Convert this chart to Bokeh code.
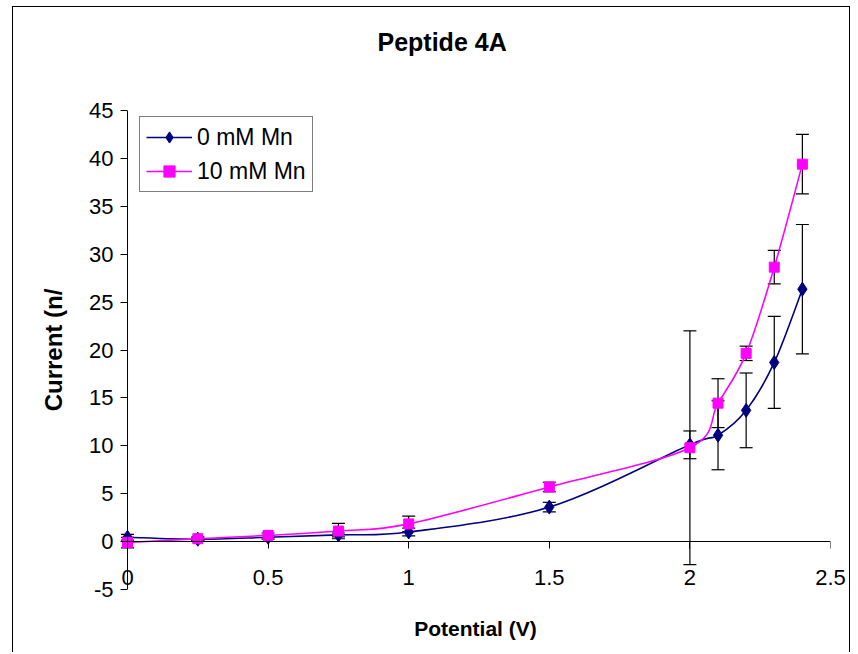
import numpy as np
from bokeh.plotting import figure
from bokeh.models import (Range1d, FixedTicker, LinearAxis, Whisker, TeeHead,
                          ColumnDataSource, Legend, LegendItem, Span, Title,
                          CustomJSTickFormatter)
from bokeh.embed import file_html
from bokeh.resources import INLINE

# ---------------- data ----------------
potential = [0.0, 0.25, 0.5, 0.75, 1.0, 1.5, 2.0, 2.1, 2.2, 2.3, 2.4]
mn0 = [0.45, 0.25, 0.45, 0.7, 1.0, 3.6, 10.1, 11.1, 13.7, 18.7, 26.35]
mn0_err = [0.3, 0.15, 0.2, 0.2, 0.4, 0.5, 1.45, 3.6, 3.9, 4.8, 6.75]
mn10 = [-0.1, 0.3, 0.65, 1.1, 1.85, 5.7, 9.8, 14.45, 19.65, 28.65, 39.4]
mn10_err = [0.55, 0.2, 0.25, 0.8, 0.8, 0.5, 12.2, 2.55, 0.75, 1.75, 3.1]

series_names = ["0 mM Mn", "10 mM Mn"]
x_ticks = [0, 0.5, 1, 1.5, 2, 2.5]
x_tick_labels = ["0", "0.5", "1", "1.5", "2", "2.5"]
y_ticks = [-5, 0, 5, 10, 15, 20, 25, 30, 35, 40, 45]
y_tick_labels = ["-5", "0", "5", "10", "15", "20", "25", "30", "35", "40", "45"]

title_text = "Peptide 4A"
x_label = "Potential (V)"
y_label = "Current (n/"

FONT = "Liberation Sans"
NAVY = "#000080"
MAGENTA = "#FF00FF"


def smooth_segments(xs, ys):
    """Bezier control points (Catmull-Rom style) through the data points."""
    P = np.column_stack([xs, ys]).astype(float)
    n = len(P)
    segs = {k: [] for k in ["x0", "y0", "x1", "y1", "cx0", "cy0", "cx1", "cy1"]}
    for i in range(n - 1):
        p0 = P[i - 1] if i > 0 else P[i]
        p1 = P[i]
        p2 = P[i + 1]
        p3 = P[i + 2] if i + 2 < n else P[i + 1]
        c1 = p1 + (p2 - p0) / 6.0
        c2 = p2 - (p3 - p1) / 6.0
        segs["x0"].append(p1[0]); segs["y0"].append(p1[1])
        segs["x1"].append(p2[0]); segs["y1"].append(p2[1])
        segs["cx0"].append(c1[0]); segs["cy0"].append(c1[1])
        segs["cx1"].append(c2[0]); segs["cy1"].append(c2[1])
    return ColumnDataSource(segs)


p = figure(width=838, height=646, title=None,
           x_range=Range1d(-0.025, 2.5), y_range=Range1d(-5, 45),
           output_backend="svg", toolbar_location=None,
           min_border_left=107, min_border_right=21,
           min_border_top=103, min_border_bottom=64)
p.styles = {"margin-left": "12px", "margin-top": "6px",
            "border-left": "1px solid black", "border-top": "1px solid black",
            "border-right": "1px solid black"}
p.xgrid.visible = False
p.ygrid.visible = False
p.outline_line_color = None
p.background_fill_color = "white"
p.border_fill_color = "white"

# ---- bottom axis: only tick labels + axis label ----
xa = p.xaxis[0]
xa.ticker = FixedTicker(ticks=x_ticks)
xa.major_label_overrides = {t: l for t, l in zip(x_ticks, x_tick_labels)}
xa.axis_line_color = None
xa.major_tick_line_color = None
xa.minor_tick_line_color = None
xa.major_tick_out = 0
xa.major_tick_in = 0
xa.major_label_standoff = -20
xa.major_label_text_font = FONT
xa.major_label_text_font_size = "22px"
xa.major_label_text_color = "black"
xa.axis_label = x_label
xa.axis_label_text_font = FONT
xa.axis_label_text_font_style = "bold"
xa.axis_label_text_font_size = "21px"
xa.axis_label_text_color = "black"
xa.axis_label_standoff = 29

# ---- axis line + ticks at y = 0 ----
xa0 = LinearAxis(fixed_location=0, ticker=FixedTicker(ticks=x_ticks),
                 bounds=(0, 2.5),
                 formatter=CustomJSTickFormatter(code="return ''"),
                 major_tick_in=7, major_tick_out=0,
                 major_label_standoff=0, major_label_text_font_size="1px",
                 minor_tick_line_color=None,
                 axis_line_color="black", major_tick_line_color="black")
p.add_layout(xa0, "above")

# ---- invisible spacer between frame and title ----
spacer = LinearAxis(ticker=FixedTicker(ticks=x_ticks),
                    formatter=CustomJSTickFormatter(code="return ''"),
                    major_tick_in=0, major_tick_out=52,
                    major_label_standoff=0, major_label_text_font_size="1px",
                    minor_tick_line_color=None,
                    axis_line_color=None, major_tick_line_color=None)
p.add_layout(spacer, "above")

title = Title(text=title_text, align="left", offset=257, standoff=6,
              text_font=FONT, text_font_style="bold", text_font_size="25px",
              text_color="black")
p.add_layout(title, "above")

# ---- y axis: ticks reach from frame edge to x = 0 ----
ya = p.yaxis[0]
ya.ticker = FixedTicker(ticks=y_ticks)
ya.major_label_overrides = {t: l for t, l in zip(y_ticks, y_tick_labels)}
ya.minor_tick_line_color = None
ya.major_tick_out = 0
ya.major_tick_in = 7
ya.major_label_standoff = 7
ya.major_label_text_font = FONT
ya.major_label_text_font_size = "22px"
ya.major_label_text_color = "black"
ya.axis_line_color = None
ya.major_tick_line_color = "black"
ya.axis_label = y_label
ya.axis_label_text_font = FONT
ya.axis_label_text_font_style = "bold"
ya.axis_label_text_font_size = "24px"
ya.axis_label_text_color = "black"
ya.axis_label_standoff = 19

p.add_layout(Span(location=0, dimension="height", line_color="black",
                  line_width=1))

# ---- error bars ----
for ys, es in [(mn0, mn0_err), (mn10, mn10_err)]:
    src = ColumnDataSource(dict(x=potential,
                                upper=[y + e for y, e in zip(ys, es)],
                                lower=[y - e for y, e in zip(ys, es)]))
    w = Whisker(base="x", upper="upper", lower="lower", source=src,
                dimension="height", line_color="black", line_width=1.2,
                upper_head=TeeHead(size=13, line_color="black", line_width=1.2),
                lower_head=TeeHead(size=13, line_color="black", line_width=1.2))
    p.add_layout(w)

# ---- smoothed lines ----
b0 = p.bezier(x0="x0", y0="y0", x1="x1", y1="y1", cx0="cx0", cy0="cy0",
              cx1="cx1", cy1="cy1", source=smooth_segments(potential, mn0),
              line_color=NAVY, line_width=1.6)
b1 = p.bezier(x0="x0", y0="y0", x1="x1", y1="y1", cx0="cx0", cy0="cy0",
              cx1="cx1", cy1="cy1", source=smooth_segments(potential, mn10),
              line_color=MAGENTA, line_width=1.6)

s0 = p.scatter(potential, mn0, marker="diamond", size=14,
               fill_color=NAVY, line_color=NAVY)
s1 = p.scatter(potential, mn10, marker="square", size=10,
               fill_color=MAGENTA, line_color=MAGENTA)

legend = Legend(items=[LegendItem(label=series_names[0], renderers=[b0, s0]),
                       LegendItem(label=series_names[1], renderers=[b1, s1])],
                location=(19, 397), orientation="vertical",
                padding=6, spacing=6, glyph_width=46, glyph_height=28,
                label_height=28, label_standoff=5, margin=0,
                label_text_font=FONT, label_text_font_size="23px",
                label_text_color="black",
                border_line_color="black", border_line_width=1,
                background_fill_color="white", background_fill_alpha=1)
p.add_layout(legend)

open("out.html", "w").write(file_html(p, INLINE))
